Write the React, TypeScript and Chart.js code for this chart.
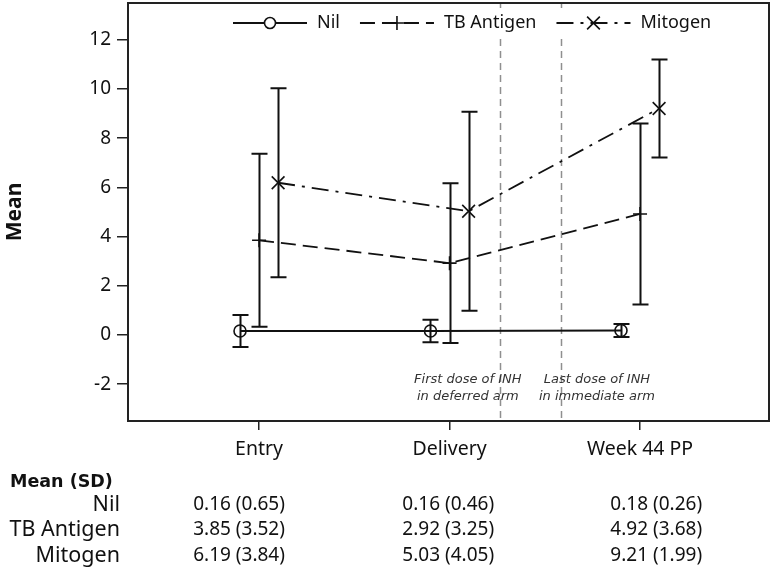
import React, { useEffect, useRef } from "react";
import { Chart, registerables } from "chart.js";

Chart.register(...registerables);

// ---- data ----
const categories = ["Entry", "Delivery", "Week 44 PP"];
const seriesNames = ["Nil", "TB Antigen", "Mitogen"];
const nilMean = [0.16, 0.16, 0.18];
const nilSD = [0.65, 0.46, 0.26];
const tbMean = [3.85, 2.92, 4.92];
const tbSD = [3.52, 3.25, 3.68];
const mitoMean = [6.19, 5.03, 9.21];
const mitoSD = [3.84, 4.05, 1.99];
const yTicks = [-2, 0, 2, 4, 6, 8, 10, 12];
const eventLines = [2.265, 2.585];
const eventLabels = [
  ["First dose of INH", "in deferred arm"],
  ["Last dose of INH", "in immediate arm"],
];
const tableTitle = "Mean (SD)";
const yTitle = "Mean";

// ---- style / layout constants ----
const means = [nilMean, tbMean, mitoMean];
const sds = [nilSD, tbSD, mitoSD];
const groupOffsets = [-0.1, 0, 0.1];
const dashes: number[][] = [[], [15, 7], [17, 7, 3, 7]];
const pointStyles = ["circle", "cross", "crossRot"];
const pointRadii = [6, 7, 9];
const eventLabelX = [2.096, 2.774];
const eventLabelY = [-1.8, -2.5];
const tableColX = [0.895, 1.993, 3.085];
const tableTitleY = 482;
const tableRowY = [505, 530, 556];

const W = 776;
const H = 573;

const zeroPad = (axis: any) => {
  axis.paddingTop = 0;
  axis.paddingBottom = 0;
  axis.paddingLeft = 0;
  axis.paddingRight = 0;
};

const overlay = {
  id: "overlay",
  beforeDatasetsDraw(chart: any) {
    const { ctx, chartArea: ca, scales } = chart;
    const x = scales.x;
    const y = scales.y;
    ctx.save();
    // event reference lines
    ctx.strokeStyle = "#8f8f8f";
    ctx.lineWidth = 1.5;
    ctx.setLineDash([7, 5]);
    eventLines.forEach((v) => {
      const px = Math.round(x.getPixelForValue(v)) + 0.5;
      ctx.beginPath();
      ctx.moveTo(px, ca.top);
      ctx.lineTo(px, ca.bottom);
      ctx.stroke();
    });
    ctx.setLineDash([]);
    // event labels
    ctx.font = 'italic 13px "DejaVu Sans"';
    ctx.fillStyle = "#333";
    ctx.textAlign = "center";
    ctx.textBaseline = "middle";
    eventLabels.forEach((lines, i) => {
      const px = x.getPixelForValue(eventLabelX[i]);
      lines.forEach((t, k) => {
        ctx.fillText(t, px, y.getPixelForValue(eventLabelY[k]));
      });
    });
    // error bars
    ctx.strokeStyle = "#111";
    ctx.lineWidth = 2;
    means.forEach((m, i) => {
      m.forEach((v, j) => {
        const px = Math.round(x.getPixelForValue(j + 1 + groupOffsets[i])) + 0.5;
        const lo = y.getPixelForValue(v - sds[i][j]);
        const hi = y.getPixelForValue(v + sds[i][j]);
        ctx.beginPath();
        ctx.moveTo(px, lo);
        ctx.lineTo(px, hi);
        ctx.moveTo(px - 8, lo);
        ctx.lineTo(px + 8, lo);
        ctx.moveTo(px - 8, hi);
        ctx.lineTo(px + 8, hi);
        ctx.stroke();
      });
    });
    ctx.restore();
  },
  afterDatasetsDraw(chart: any) {
    const { ctx } = chart;
    ctx.save();
    // legend
    ctx.font = '18px "Noto Sans"';
    const symW = 74;
    const gapText = 10;
    const gapItem = 20;
    const ly = 23;
    let lx = 233;
    ctx.fillStyle = "#fff";
    ctx.fillRect(lx - 8, 8, 485, 30);
    chart.data.datasets.forEach((ds: any, i: number) => {
      ctx.strokeStyle = "#111";
      ctx.lineWidth = 1.8;
      ctx.setLineDash(dashes[i]);
      ctx.beginPath();
      ctx.moveTo(lx, ly);
      ctx.lineTo(lx + symW, ly);
      ctx.stroke();
      ctx.setLineDash([]);
      const cx = lx + symW / 2;
      const r = pointRadii[i];
      ctx.lineWidth = 1.6;
      ctx.beginPath();
      if (pointStyles[i] === "circle") {
        ctx.fillStyle = "#fff";
        ctx.arc(cx, ly, 5.5, 0, Math.PI * 2);
        ctx.fill();
        ctx.stroke();
      } else if (pointStyles[i] === "cross") {
        ctx.moveTo(cx - r, ly);
        ctx.lineTo(cx + r, ly);
        ctx.moveTo(cx, ly - r);
        ctx.lineTo(cx, ly + r);
        ctx.stroke();
      } else {
        const d = r * Math.SQRT1_2;
        ctx.moveTo(cx - d, ly - d);
        ctx.lineTo(cx + d, ly + d);
        ctx.moveTo(cx - d, ly + d);
        ctx.lineTo(cx + d, ly - d);
        ctx.stroke();
      }
      ctx.fillStyle = "#111";
      ctx.textAlign = "left";
      ctx.textBaseline = "middle";
      const tx = lx + symW + gapText;
      ctx.fillText(ds.label, tx, ly);
      lx = tx + ctx.measureText(ds.label).width + gapItem;
    });
    ctx.restore();
  },
  afterDraw(chart: any) {
    const { ctx, chartArea: ca, scales } = chart;
    const x = scales.x;
    ctx.save();
    // frame
    ctx.strokeStyle = "#222";
    ctx.lineWidth = 2;
    ctx.strokeRect(ca.left, ca.top, ca.right - ca.left, ca.bottom - ca.top);
    // table
    ctx.fillStyle = "#111";
    ctx.textBaseline = "middle";
    ctx.textAlign = "left";
    ctx.font = 'bold 17.5px "DejaVu Sans"';
    ctx.fillText(tableTitle, 10, tableTitleY);
    seriesNames.forEach((name, i) => {
      ctx.textAlign = "right";
      ctx.font = '21.5px "Noto Sans"';
      ctx.fillText(name, 120, tableRowY[i]);
      ctx.textAlign = "center";
      ctx.font = '19px "Noto Sans"';
      means[i].forEach((v, j) => {
        const txt = `${v.toFixed(2)} (${sds[i][j].toFixed(2)})`;
        ctx.fillText(txt, x.getPixelForValue(tableColX[j]), tableRowY[i]);
      });
    });
    ctx.restore();
  },
};

export default function App() {
  const ref = useRef<HTMLCanvasElement | null>(null);
  useEffect(() => {
    document.body.style.margin = "0";
    document.body.style.overflow = "hidden";
    const canvas = ref.current!;
    const datasets = means.map((m, i) => ({
      label: seriesNames[i],
      data: m.map((v, j) => ({ x: j + 1 + groupOffsets[i], y: v })),
      borderColor: "#111",
      borderWidth: 1.8,
      borderDash: dashes[i],
      pointStyle: pointStyles[i],
      pointRadius: pointRadii[i],
      pointBorderWidth: 1.6,
      pointBorderColor: "#111",
      pointBackgroundColor: "rgba(0,0,0,0)",
      fill: false,
      tension: 0,
      showLine: true,
    }));
    const chart = new Chart(canvas, {
      type: "line",
      data: { datasets },
      plugins: [overlay],
      options: {
        animation: false,
        responsive: false,
        devicePixelRatio: 1,
        layout: { autoPadding: false, padding: { top: 3, right: 7, left: 0, bottom: 0 } },
        plugins: { legend: { display: false }, tooltip: { enabled: false } },
        scales: {
          x: {
            type: "linear",
            min: 0.312,
            max: 3.677,
            afterBuildTicks: (axis: any) => {
              axis.ticks = categories.map((_, i) => ({ value: i + 1 }));
            },
            afterFit: (axis: any) => {
              axis.height = H - 421;
              zeroPad(axis);
            },
            ticks: {
              color: "#111",
              font: { family: "Noto Sans", size: 19.5 },
              padding: 8,
              maxRotation: 0,
              callback: (v: any) => categories[Math.round(v) - 1] ?? "",
            },
            grid: {
              display: true,
              drawOnChartArea: false,
              drawTicks: true,
              tickLength: 9,
              color: "#222",
              lineWidth: 1.5,
            },
            border: { display: false },
          },
          y: {
            type: "linear",
            min: -3.5,
            max: 13.5,
            afterBuildTicks: (axis: any) => {
              axis.ticks = yTicks.map((v) => ({ value: v }));
            },
            afterFit: (axis: any) => {
              axis.width = 128;
              zeroPad(axis);
            },
            ticks: {
              color: "#111",
              font: { family: "Noto Sans", size: 19 },
              padding: 6,
            },
            grid: {
              display: true,
              drawOnChartArea: false,
              drawTicks: true,
              tickLength: 11,
              color: "#222",
              lineWidth: 1.5,
            },
            border: { display: false },
            title: {
              display: true,
              text: yTitle,
              color: "#111",
              font: { family: "Noto Sans", size: 21, weight: "bold" },
              padding: { top: 2, bottom: 0 },
            },
          },
        },
      },
    } as any);
    return () => chart.destroy();
  }, []);
  return (
    <canvas
      ref={ref}
      width={W}
      height={H}
      style={{ display: "block", width: W, height: H }}
    />
  );
}
